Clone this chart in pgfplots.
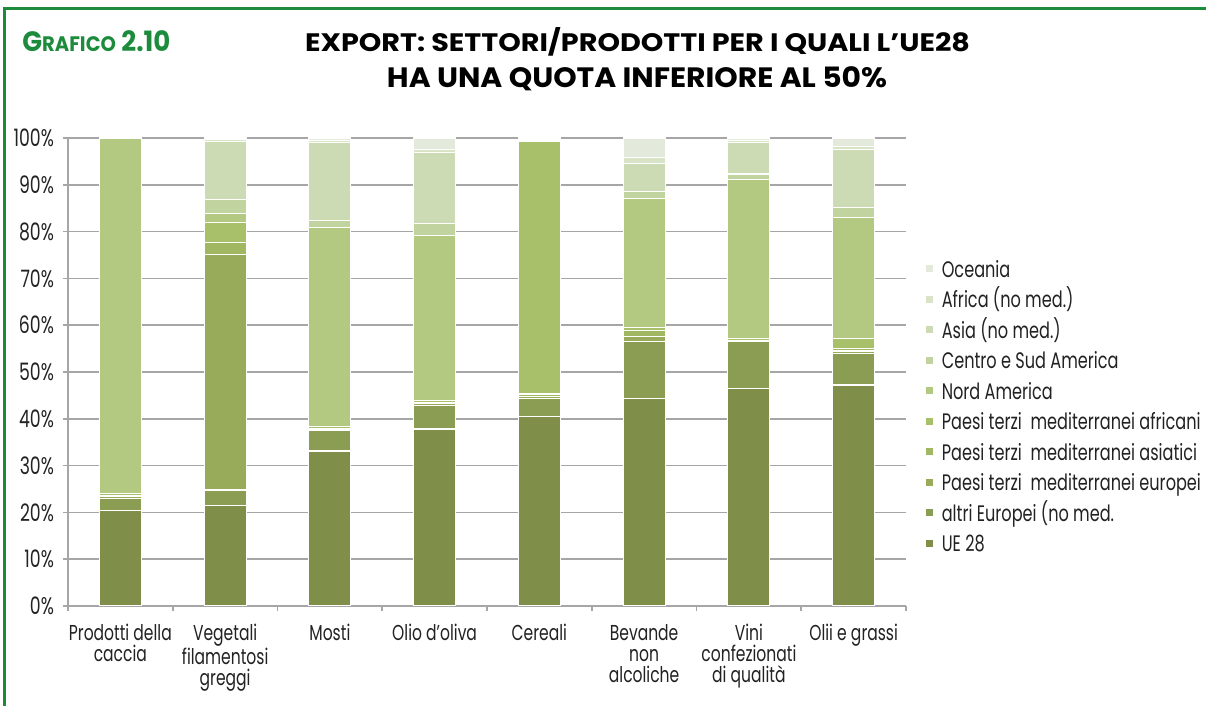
\documentclass[border=0pt]{standalone}
\usepackage{fontspec}
\setmainfont{Poppins}[FakeStretch=0.72]
\newfontfamily\titlefont{Poppins}
\usepackage{graphicx}
\usepackage{pgfplots}
\usepackage{pgfplotstable}
\pgfplotsset{compat=1.18}
\definecolor{frame}{HTML}{1C8C3C}
\definecolor{cUE}{HTML}{7F8F4A}
\definecolor{cAE}{HTML}{8A9D52}
\definecolor{cEU}{HTML}{97AB5A}
\definecolor{cAS}{HTML}{A1B762}
\definecolor{cAF}{HTML}{A9C06A}
\definecolor{cNA}{HTML}{B3C982}
\definecolor{cCS}{HTML}{C1D39E}
\definecolor{cASIA}{HTML}{CDDBB5}
\definecolor{cAFR}{HTML}{D8E3C8}
\definecolor{cOC}{HTML}{E3EADB}
\definecolor{gridc}{HTML}{A6A6A6}
\definecolor{txt}{HTML}{222222}

% columns: UE28, altri Europei, PT med europei, PT med asiatici, PT med africani,
% Nord America, Centro e Sud America, Asia, Africa, Oceania
\pgfplotstableread{
x ue   ae   eur  asi  afr  nam  csa  asia afri oce
0 20.4 2.6  0.5  0.0  0.5  76.0 0.0  0.0  0.0  0.0
1 21.4 3.4  50.3 2.6  4.3  1.9  2.9  12.5 0.3  0.4
2 33.1 4.5  0.3  0.0  0.4  42.6 1.4  16.7 0.4  0.6
3 37.8 5.0  0.4  0.3  0.4  35.2 2.7  15.1 0.7  2.4
4 40.5 3.8  0.5  0.5  53.9 0.2  0.2  0.2  0.1  0.1
5 44.4 12.1 1.1  1.2  0.7  27.5 1.5  6.1  1.3  4.1
6 46.5 10.0 0.3  0.0  0.4  34.0 1.1  6.7  0.4  0.6
7 47.2 6.8  0.5  0.5  2.1  25.9 2.2  12.4 0.6  1.8
}\data

\begin{document}
\begin{tikzpicture}[x=1pt,y=1pt]
\begin{axis}[
  name=ax, anchor=south west, scale only axis,
  width=419pt, height=234pt,
  ybar stacked, bar width=21pt,
  xmin=-0.5, xmax=7.5, ymin=0, ymax=100,
  /pgf/number format/assume math mode=true,
  xtick={0,...,7},
  xticklabels={{Prodotti della\\caccia},{Vegetali\\filamentosi\\greggi},Mosti,{Olio d'oliva},Cereali,{Bevande\\non\\alcoliche},{Vini\\confezionati\\di qualità},{Olii e grassi}},
  xticklabel style={font=\fontsize{10.8}{10.5}\selectfont, align=center, text=txt, yshift=-3pt},
  major x tick style={draw=none},
  minor xtick={-0.5,0.5,...,7.5},
  minor tick length=2.5pt, major tick length=2.5pt,
  tick align=outside,
  ytick={0,10,...,100},
  yticklabel={\pgfmathprintnumber{\tick}\%},
  yticklabel style={font=\fontsize{12}{12}\selectfont, text=txt, xshift=-1pt},
  ymajorgrids, grid style={gridc, line width=0.8pt},
  axis x line*=bottom, axis y line*=left,
  axis line style={gridc, line width=0.8pt},
  tick style={gridc, line width=0.8pt},
  every axis plot/.append style={draw=white, line width=0.6pt},
  legend image code/.code={\fill[#1, draw=none] (0pt,-0.3pt) rectangle (3.5pt,3.2pt);},
  reverse legend,
  legend cell align=left,
  legend style={at={(1.016,0.750)}, anchor=north west, draw=none, fill=none,
    font=\fontsize{11.2}{11.2}\selectfont, text=txt, row sep=2.95pt,
    /tikz/every odd column/.append style={column sep=3.5pt},
    nodes={inner sep=1pt, text height=8pt, text depth=2.3pt}},
]
\addplot[fill=cUE] table[x=x,y=ue] {\data};
\addplot[fill=cAE] table[x=x,y=ae] {\data};
\addplot[fill=cEU] table[x=x,y=eur] {\data};
\addplot[fill=cAS] table[x=x,y=asi] {\data};
\addplot[fill=cAF] table[x=x,y=afr] {\data};
\addplot[fill=cNA] table[x=x,y=nam] {\data};
\addplot[fill=cCS] table[x=x,y=csa] {\data};
\addplot[fill=cASIA] table[x=x,y=asia] {\data};
\addplot[fill=cAFR] table[x=x,y=afri] {\data};
\addplot[fill=cOC] table[x=x,y=oce] {\data};
\legend{UE 28,altri Europei (no med.,Paesi terzi\ \ mediterranei europei,Paesi terzi\ \ mediterranei asiatici,Paesi terzi\ \ mediterranei africani,Nord America,Centro e Sud America,Asia (no med.),Africa (no med.),Oceania}
\end{axis}
\begin{scope}[shift={(ax.south west)}, shift={(-34,-50)}]
\pgfresetboundingbox
\path[use as bounding box] (0,0) rectangle (603,353);
\draw[frame, line width=1.5pt] (2.5,0) -- (2.5,348.5) -- (603,348.5);
\node[anchor=base west, inner sep=0] at (11,327)
  {\resizebox{74pt}{12pt}{\rule{0pt}{12pt}\titlefont\bfseries\color{frame}\fontsize{14}{14}\selectfont G\fontsize{10.5}{10.5}\selectfont RAFICO\fontsize{14}{14}\selectfont\ 2.10}};
\node[anchor=base, inner sep=0] at (318.75,327)
  {\resizebox{332.5pt}{12pt}{\rule{0pt}{12pt}\titlefont\bfseries\fontsize{14}{14}\selectfont EXPORT: SETTORI/PRODOTTI PER I QUALI L’UE28}};
\node[anchor=base, inner sep=0] at (318.5,309)
  {\resizebox{250pt}{12pt}{\rule{0pt}{12pt}\titlefont\bfseries\fontsize{14}{14}\selectfont HA UNA QUOTA INFERIORE AL 50\%}};
\end{scope}
\end{tikzpicture}
\end{document}
